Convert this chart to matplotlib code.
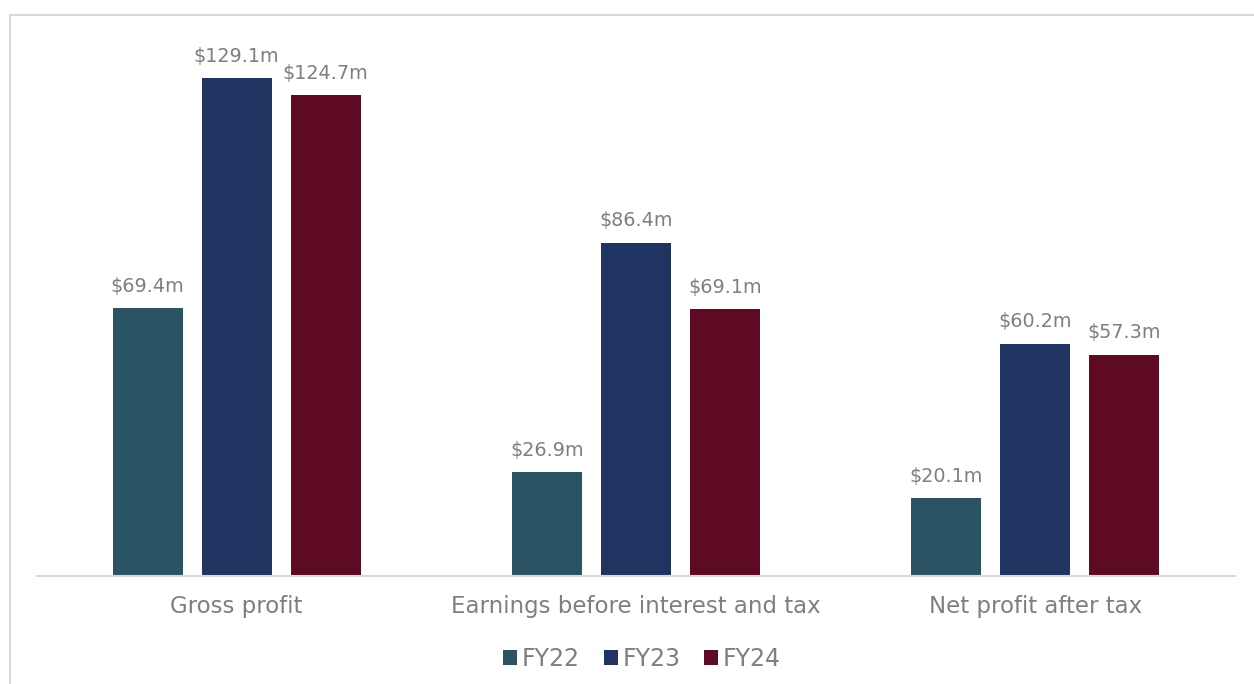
import numpy as np
import matplotlib.pyplot as plt
from matplotlib.patches import Rectangle

categories = ["Gross profit", "Earnings before interest and tax", "Net profit after tax"]
years = ["FY22", "FY23", "FY24"]
fy22 = [69.4, 26.9, 20.1]
fy23 = [129.1, 86.4, 60.2]
fy24 = [124.7, 69.1, 57.3]

colors = ["#2a5463", "#1f3461", "#5e0a22"]
text_col = "#7f7f7f"

plt.rcParams['font.family'] = ['DejaVu Sans']

fig = plt.figure(figsize=(12.54, 6.84), dpi=100)
# light frame around the chart area
fig.patches.append(Rectangle((10 / 1254, -0.1), 1.2, (684 - 15) / 684 + 0.1,
                             transform=fig.transFigure, fill=False,
                             edgecolor="#d9d9d9", lw=1.5))

ax = fig.add_axes([37 / 1254, (684 - 576) / 684, 1198 / 1254, 540 / 684])

x = np.arange(len(categories))
width = 0.175
step = 0.223
for i, (vals, name) in enumerate(zip([fy22, fy23, fy24], years)):
    bars = ax.bar(x + (i - 1) * step, vals, width, color=colors[i], label=name)
    for b, v in zip(bars, vals):
        ax.annotate(f"${v:.1f}m", (b.get_x() + b.get_width() / 2, v),
                    xytext=(0, 9), textcoords="offset points",
                    ha="center", va="bottom", fontsize=13.8, color=text_col)

ax.set_xlim(-0.5, 2.5)
ax.set_ylim(0, 140)
ax.set_yticks([])
ax.set_xticks(x)
ax.set_xticklabels(categories, fontsize=16.5, color=text_col)
ax.tick_params(axis="x", length=0, pad=14)
for s in ["top", "right", "left"]:
    ax.spines[s].set_visible(False)
ax.spines["bottom"].set_color("#d9d9d9")
ax.spines["bottom"].set_linewidth(1.5)

leg = ax.legend(loc="center", bbox_to_anchor=(0.505, -0.153), ncol=3, frameon=False,
                fontsize=17, handlelength=0.6, handleheight=0.6, handletextpad=0.2,
                columnspacing=1.0, labelcolor=text_col)

fig.savefig("out.png", dpi=100)
